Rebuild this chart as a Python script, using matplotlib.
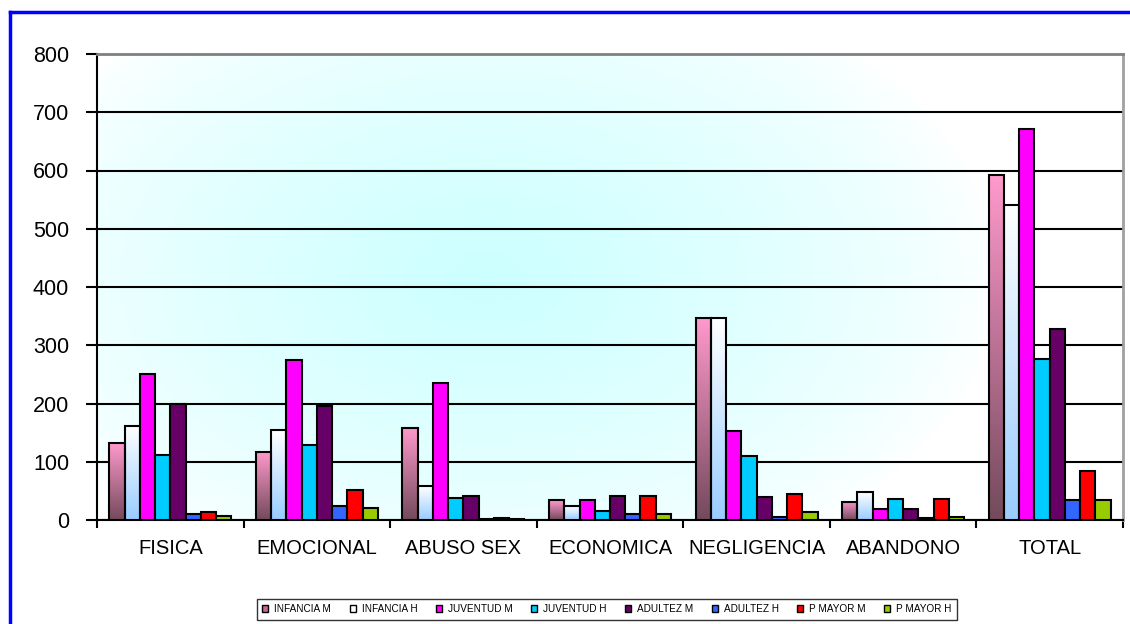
# Grouped bar chart: violence types by age group and sex
import matplotlib.pyplot as plt
import numpy as np
from matplotlib.patches import Patch
from matplotlib.lines import Line2D

plt.rcParams['font.family'] = ['Liberation Sans', 'DejaVu Sans']

# Data
categories = ['FISICA', 'EMOCIONAL', 'ABUSO SEX', 'ECONOMICA', 'NEGLIGENCIA', 'ABANDONO', 'TOTAL']
series = ['INFANCIA M', 'INFANCIA H', 'JUVENTUD M', 'JUVENTUD H',
          'ADULTEZ M', 'ADULTEZ H', 'P MAYOR M', 'P MAYOR H']
infancia_m = [132, 117, 158, 34, 347, 31, 592]
infancia_h = [162, 155, 58, 24, 347, 48, 541]
juventud_m = [251, 275, 236, 34, 153, 19, 671]
juventud_h = [112, 129, 38, 16, 110, 36, 276]
adultez_m = [199, 195, 41, 41, 40, 19, 328]
adultez_h = [10, 24, 1, 10, 5, 3, 34]
pmayor_m = [14, 51, 3, 41, 45, 36, 84]
pmayor_h = [7, 20, 2, 10, 13, 5, 34]
values = [infancia_m, infancia_h, juventud_m, juventud_h,
          adultez_m, adultez_h, pmayor_m, pmayor_h]
yticks = [0, 100, 200, 300, 400, 500, 600, 700, 800]

# Colours (first two series get a gradient fill)
colors = ['#CC6699', '#FFFFFF', '#FF00FF', '#00CCFF', '#660066', '#3366FF', '#FF0000', '#99CC00']
grad_top = {0: '#FF99CC', 1: '#FFFFFF'}
grad_bot = {0: '#744A5C', 1: '#99CCFF'}

fig = plt.figure(figsize=(11.3, 6.24), dpi=100)
ax = fig.add_axes([97/1130, 1-520/624, 1026/1130, 466/624])

# radial-ish background
gx, gy = np.meshgrid(np.linspace(0, 1, 300), np.linspace(0, 1, 200))
r = np.sqrt(((gx-0.38)/0.5)**2 + ((gy-0.52)/0.7)**2)
t = np.clip(1 - r, 0, 1)**0.7
bg = np.ones((200, 300, 3))
cyan = np.array([0.80, 1.0, 1.0])
for c in range(3):
    bg[:, :, c] = 1 + (cyan[c]-1)*t
ax.imshow(bg, extent=[0, 1, 0, 1], transform=ax.transAxes, aspect='auto',
          origin='lower', zorder=-2)

x = np.arange(len(categories))
w = 0.104
for j, s in enumerate(series):
    xs = x + (j-3.5)*w
    if j in grad_top:
        bars = ax.bar(xs, values[j], w, facecolor='none', edgecolor='black', lw=1.5, zorder=4)
        top = np.array(plt.matplotlib.colors.to_rgb(grad_top[j]))
        bot = np.array(plt.matplotlib.colors.to_rgb(grad_bot[j]))
        g = np.linspace(0, 1, 100)[:, None]
        img = (bot[None, :]*(1-g) + top[None, :]*g)[:, None, :]
        for b in bars:
            ax.imshow(img, extent=[b.get_x(), b.get_x()+b.get_width(), 0, b.get_height()],
                      origin='lower', aspect='auto', zorder=3)
    else:
        ax.bar(xs, values[j], w, color=colors[j], edgecolor='black', lw=1.5, zorder=4)

ax.set_xlim(-0.5, len(categories)-0.5)
ax.set_ylim(0, 800)
ax.set_yticks(yticks)
ax.tick_params(axis='y', labelsize=15.5, length=8, width=1.5, pad=12)
ax.set_xticks(x)
ax.set_xticklabels(categories, fontsize=14.5)
ax.tick_params(axis='x', length=0, pad=14)
ax.set_xticks(np.arange(len(categories)+1)-0.5, minor=True)
ax.tick_params(axis='x', which='minor', length=6, width=1.5)
ax.yaxis.grid(True, color='black', lw=1.5, zorder=1)
ax.set_axisbelow(True)
for sp in ['left', 'bottom']:
    ax.spines[sp].set_linewidth(1.5)
ax.spines['top'].set_color('#808080')
ax.spines['right'].set_color('#A0A0A0')
ax.spines['top'].set_linewidth(2)
ax.spines['right'].set_linewidth(2)

# legend
handles = [Patch(facecolor=c, edgecolor='black', lw=1) for c in colors]
leg = fig.legend(handles, series, loc='center', bbox_to_anchor=(607/1130, 1-609/624), ncol=8,
                 fontsize=7.2, frameon=True, fancybox=False, edgecolor='black',
                 handlelength=0.6, handleheight=0.6, handletextpad=0.6, columnspacing=1.85,
                 borderpad=0.55)
leg.get_frame().set_linewidth(1)

# blue border
fig.add_artist(Line2D([10/1130, 10/1130], [0, 1-12/624], color='blue', lw=2.5))
fig.add_artist(Line2D([10/1130, 1], [1-12/624, 1-12/624], color='blue', lw=2.5))

plt.savefig('out.png', dpi=100)
